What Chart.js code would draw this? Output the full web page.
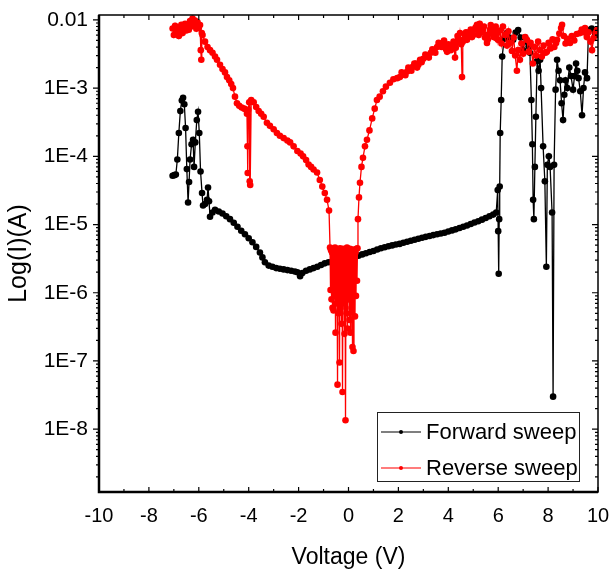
<!DOCTYPE html>
<html>
<head>
<meta charset="utf-8">
<script src="https://cdn.jsdelivr.net/npm/chart.js@4.4.1/dist/chart.umd.min.js"></script>
<style>
  html, body { margin: 0; padding: 0; background: #fff; }
  #wrap { position: relative; width: 611px; height: 585px; }
</style>
</head>
<body>
<div id="wrap"><canvas id="ivChart"></canvas></div>
<script>
/* ---------- data: [voltage (V), current (A)] ---------- */
const forwardSweep = [
  [-7.05, 5.2e-5], [-6.98, 5.3e-5], [-6.92, 5.4e-5], [-6.86, 9e-5], [-6.8, 2.2e-4],
  [-6.74, 4.6e-4], [-6.68, 6.6e-4], [-6.63, 7.2e-4], [-6.58, 5.8e-4], [-6.53, 2.6e-4],
  [-6.48, 6.5e-5], [-6.43, 2.1e-5], [-6.39, 4.2e-5], [-6.35, 9e-5], [-6.29, 1.5e-4],
  [-6.23, 1.75e-4], [-6.19, 7e-5], [-6.14, 1.6e-4], [-6.08, 3.4e-4], [-6.03, 4.5e-4],
  [-5.98, 2.2e-4], [-5.93, 6e-5], [-5.87, 2.9e-5], [-5.83, 1.9e-5], [-5.75, 2e-5],
  [-5.67, 2.3e-5], [-5.63, 3.5e-5], [-5.59, 2.2e-5], [-5.55, 1.3e-5], [-5.45, 1.5e-5],
  [-5.35, 1.65e-5], [-5.2, 1.55e-5], [-5.05, 1.45e-5], [-4.9, 1.32e-5], [-4.75, 1.2e-5],
  [-4.6, 1.06e-5], [-4.45, 9.3e-6], [-4.3, 8.1e-6], [-4.15, 7.2e-6], [-4.0, 6.3e-6],
  [-3.85, 5.5e-6], [-3.7, 4.7e-6], [-3.55, 3.9e-6], [-3.45, 3.3e-6], [-3.35, 2.8e-6],
  [-3.2, 2.5e-6], [-3.05, 2.4e-6], [-2.9, 2.3e-6], [-2.75, 2.25e-6], [-2.6, 2.2e-6],
  [-2.45, 2.15e-6], [-2.3, 2.1e-6], [-2.15, 2.05e-6], [-2.05, 2.0e-6], [-1.94, 1.75e-6],
  [-1.85, 1.95e-6], [-1.7, 2.1e-6], [-1.55, 2.2e-6], [-1.4, 2.3e-6], [-1.25, 2.4e-6],
  [-1.1, 2.55e-6], [-0.95, 2.7e-6], [-0.8, 2.8e-6], [-0.65, 2.9e-6], [-0.5, 3.0e-6],
  [-0.35, 3.1e-6], [-0.2, 3.15e-6], [-0.05, 3.2e-6], [0.1, 3.3e-6], [0.25, 3.4e-6],
  [0.4, 3.5e-6], [0.55, 3.65e-6], [0.7, 3.8e-6], [0.85, 3.95e-6], [1.0, 4.1e-6],
  [1.15, 4.3e-6], [1.3, 4.5e-6], [1.45, 4.65e-6], [1.6, 4.8e-6], [1.75, 4.95e-6],
  [1.9, 5.1e-6], [2.05, 5.2e-6], [2.2, 5.4e-6], [2.35, 5.6e-6], [2.5, 5.8e-6],
  [2.65, 6.0e-6], [2.8, 6.2e-6], [2.95, 6.4e-6], [3.1, 6.6e-6], [3.25, 6.8e-6],
  [3.4, 7.0e-6], [3.55, 7.2e-6], [3.7, 7.4e-6], [3.85, 7.6e-6], [4.0, 7.9e-6],
  [4.15, 8.2e-6], [4.3, 8.5e-6], [4.45, 8.9e-6], [4.6, 9.3e-6], [4.75, 9.7e-6],
  [4.9, 1.02e-5], [5.05, 1.07e-5], [5.2, 1.12e-5], [5.35, 1.18e-5], [5.5, 1.25e-5],
  [5.65, 1.32e-5], [5.8, 1.4e-5], [5.92, 1.5e-5], [5.98, 3.2e-5], [6.0, 8e-6],
  [6.02, 1.9e-6], [6.04, 1.2e-5], [6.06, 3.6e-5], [6.08, 2.2e-4], [6.12, 6.7e-4],
  [6.16, 2.9e-3], [6.24, 5.3e-3], [6.35, 6.4e-3], [6.45, 5.5e-3], [6.6, 5.1e-3],
  [6.7, 6.5e-3], [6.8, 7.1e-3], [6.9, 5.5e-3], [6.99, 3.6e-3], [7.08, 5.5e-3],
  [7.15, 4.8e-3], [7.22, 4.1e-3], [7.27, 3.3e-3], [7.33, 6.7e-4], [7.37, 1.5e-4],
  [7.4, 2.3e-5], [7.43, 1.2e-5], [7.47, 7e-5], [7.51, 3.8e-4], [7.56, 2.5e-3],
  [7.62, 1.8e-3], [7.68, 2.6e-3], [7.72, 1.0e-3], [7.8, 1.4e-4], [7.87, 4.3e-5],
  [7.93, 2.4e-6], [7.97, 7.5e-5], [8.03, 1.0e-4], [8.08, 7e-5], [8.16, 1.5e-5],
  [8.2, 3e-8], [8.24, 7.5e-5], [8.3, 9.5e-4], [8.36, 2.6e-3], [8.42, 1.8e-3],
  [8.48, 1.3e-3], [8.54, 6e-4], [8.6, 3.4e-4], [8.65, 8e-4], [8.7, 1.3e-3],
  [8.77, 1.0e-3], [8.85, 2.0e-3], [8.92, 1.5e-3], [9.0, 9.5e-4], [9.06, 1.5e-3],
  [9.12, 2.3e-3], [9.17, 1.8e-3], [9.22, 1.4e-3], [9.29, 9e-4], [9.36, 4.0e-4],
  [9.42, 1.0e-3], [9.48, 1.7e-3], [9.56, 1.4e-3], [9.62, 7.1e-3], [9.75, 7.5e-3],
  [9.88, 6.4e-3], [10.0, 6.0e-3]
];

const reverseSweep = [
  [-7.05, 7.5e-3], [-7.0, 6e-3], [-6.95, 8.2e-3], [-6.9, 6.6e-3], [-6.85, 7.8e-3],
  [-6.8, 5.8e-3], [-6.75, 7.2e-3], [-6.7, 8.5e-3], [-6.65, 6.4e-3], [-6.6, 7.6e-3],
  [-6.55, 8.8e-3], [-6.5, 7e-3], [-6.45, 8.4e-3], [-6.4, 7.2e-3], [-6.35, 9.6e-3],
  [-6.3, 8e-3], [-6.25, 1.05e-2], [-6.2, 8.6e-3], [-6.15, 9.8e-3], [-6.1, 7.4e-3],
  [-6.05, 9.2e-3], [-6.0, 7.6e-3], [-5.95, 8.4e-3], [-5.92, 3.6e-3], [-5.9, 2.6e-3],
  [-5.88, 6.4e-3], [-5.85, 6.0e-3], [-5.75, 4.8e-3], [-5.65, 4.0e-3], [-5.55, 3.6e-3],
  [-5.45, 3.3e-3], [-5.35, 2.9e-3], [-5.27, 2.6e-3], [-5.15, 2.2e-3], [-5.05, 1.9e-3],
  [-4.95, 1.7e-3], [-4.87, 1.45e-3], [-4.78, 1.3e-3], [-4.7, 1.15e-3], [-4.63, 1.0e-3],
  [-4.55, 7.5e-4], [-4.47, 6e-4], [-4.38, 5.5e-4], [-4.28, 5.2e-4], [-4.18, 5e-4],
  [-4.1, 4.8e-4], [-4.07, 4.2e-4], [-4.05, 1.4e-4], [-4.04, 5.7e-5], [-4.02, 4.8e-4],
  [-3.98, 6.2e-4], [-3.96, 4.3e-5], [-3.94, 3.8e-5], [-3.9, 6.7e-4], [-3.8, 6.2e-4],
  [-3.7, 5.3e-4], [-3.6, 4.6e-4], [-3.5, 4.2e-4], [-3.4, 3.8e-4], [-3.27, 3.1e-4],
  [-3.15, 2.8e-4], [-3.0, 2.5e-4], [-2.87, 2.2e-4], [-2.75, 2.0e-4], [-2.6, 1.85e-4],
  [-2.45, 1.7e-4], [-2.34, 1.6e-4], [-2.2, 1.4e-4], [-2.05, 1.2e-4], [-1.92, 1.1e-4],
  [-1.82, 1.0e-4], [-1.7, 8.8e-5], [-1.6, 7.6e-5], [-1.5, 7e-5], [-1.4, 6.4e-5],
  [-1.26, 5.8e-5], [-1.15, 4.5e-5], [-1.05, 3.6e-5], [-0.95, 2.9e-5], [-0.86, 2.3e-5],
  [-0.78, 1.6e-5], [-0.74, 4.6e-6], [-0.72, 1.1e-6], [-0.7, 4.2e-6], [-0.68, 8e-7],
  [-0.66, 3.9e-6], [-0.64, 6e-7], [-0.62, 4.4e-6], [-0.6, 5.5e-7], [-0.58, 4.0e-6],
  [-0.56, 9e-7], [-0.54, 4.6e-6], [-0.52, 2.6e-7], [-0.5, 3.8e-6], [-0.48, 7e-7],
  [-0.46, 4.3e-6], [-0.44, 4.5e-8], [-0.42, 4.1e-6], [-0.4, 5e-7], [-0.38, 3.9e-6],
  [-0.36, 9.5e-8], [-0.34, 4.5e-6], [-0.32, 6e-7], [-0.3, 4.0e-6], [-0.28, 3.5e-7],
  [-0.26, 3.6e-6], [-0.24, 3.5e-8], [-0.22, 4.4e-6], [-0.2, 7e-7], [-0.18, 3.8e-6],
  [-0.16, 2.5e-7], [-0.14, 4.2e-6], [-0.12, 1.35e-8], [-0.1, 3.9e-6], [-0.08, 5e-7],
  [-0.06, 4.6e-6], [-0.04, 3e-7], [-0.02, 4.0e-6], [0.0, 8e-7], [0.02, 3.7e-6],
  [0.04, 4e-7], [0.06, 4.4e-6], [0.08, 2.6e-7], [0.1, 4.1e-6], [0.12, 6e-7],
  [0.14, 3.8e-6], [0.16, 1.6e-7], [0.18, 4.3e-6], [0.2, 1.4e-7], [0.22, 4.0e-6],
  [0.24, 4.2e-6], [0.26, 4.5e-7], [0.28, 3.9e-6], [0.3, 9e-7], [0.32, 4.4e-6],
  [0.34, 1.5e-6], [0.36, 4.5e-6], [0.38, 1.2e-5], [0.42, 2.5e-5], [0.46, 4.1e-5],
  [0.52, 7e-5], [0.58, 9.5e-5], [0.66, 1.4e-4], [0.74, 1.75e-4], [0.84, 2.4e-4],
  [0.95, 3.6e-4], [1.05, 5e-4], [1.14, 6.7e-4], [1.25, 7.5e-4], [1.38, 9e-4],
  [1.5, 1.05e-3], [1.66, 1.2e-3], [1.8, 1.35e-3], [1.95, 1.4e-3], [2.06, 1.45e-3],
  [2.13, 1.7e-3], [2.2, 1.6e-3], [2.28, 1.55e-3], [2.35, 1.75e-3], [2.4, 2.0e-3],
  [2.45, 1.9e-3], [2.52, 1.8e-3], [2.58, 2.05e-3], [2.64, 2.3e-3], [2.7, 2.3e-3],
  [2.75, 2.0e-3], [2.8, 2.2e-3], [2.87, 2.6e-3], [2.93, 2.4e-3], [3.0, 2.7e-3],
  [3.08, 3.1e-3], [3.15, 2.9e-3], [3.22, 2.8e-3], [3.3, 3.3e-3], [3.36, 3.7e-3],
  [3.42, 3.6e-3], [3.48, 3.3e-3], [3.55, 4.0e-3], [3.61, 4.6e-3], [3.67, 4.4e-3],
  [3.73, 4.0e-3], [3.79, 4.6e-3], [3.83, 5.0e-3], [3.87, 4.1e-3], [3.91, 3.7e-3],
  [3.95, 3.4e-3], [4.0, 4.4e-3], [4.05, 3.9e-3], [4.1, 3.6e-3], [4.15, 4.3e-3],
  [4.21, 4.8e-3], [4.27, 2.8e-3], [4.3, 3.9e-3], [4.33, 4.6e-3], [4.37, 5.8e-3],
  [4.4, 5.3e-3], [4.44, 4.9e-3], [4.47, 6.4e-3], [4.52, 4.4e-3], [4.55, 1.45e-3],
  [4.58, 4.8e-3], [4.62, 5.2e-3], [4.67, 5.8e-3], [4.71, 6.6e-3], [4.75, 5.1e-3],
  [4.8, 5.6e-3], [4.85, 6.6e-3], [4.9, 7.2e-3], [4.95, 5.6e-3], [5.0, 6.0e-3],
  [5.05, 7.3e-3], [5.1, 7.8e-3], [5.15, 8.5e-3], [5.18, 7.0e-3], [5.22, 6e-3],
  [5.26, 8.8e-3], [5.3, 7.8e-3], [5.34, 6.6e-3], [5.39, 7.1e-3], [5.43, 8.0e-3],
  [5.47, 5.5e-3], [5.51, 6.0e-3], [5.55, 4.6e-3], [5.59, 5.2e-3], [5.63, 6.2e-3],
  [5.67, 7.2e-3], [5.7, 8.4e-3], [5.74, 7.6e-3], [5.78, 6.3e-3], [5.82, 5.6e-3],
  [5.86, 7.3e-3], [5.9, 8.0e-3], [5.93, 5.4e-3], [5.96, 6.4e-3], [5.99, 5.1e-3],
  [6.07, 7e-3], [6.13, 4.5e-3], [6.19, 8e-3], [6.27, 6e-3], [6.35, 4.2e-3],
  [6.41, 6.8e-3], [6.47, 4.6e-3], [6.55, 3.5e-3], [6.62, 5.5e-3], [6.68, 3e-3],
  [6.75, 1.8e-3], [6.8, 3.6e-3], [6.87, 2.6e-3], [6.93, 4.5e-3], [7.0, 3.2e-3],
  [7.08, 5.6e-3], [7.15, 5.1e-3], [7.22, 3.4e-3], [7.3, 4.6e-3], [7.39, 2.3e-3],
  [7.45, 4e-3], [7.52, 3e-3], [7.6, 4.8e-3], [7.68, 3.6e-3], [7.75, 2.9e-3],
  [7.82, 4.2e-3], [7.9, 3.3e-3], [7.95, 3.4e-3], [8.02, 4.6e-3], [8.1, 3.8e-3],
  [8.18, 5.2e-3], [8.25, 4.0e-3], [8.32, 4.6e-3], [8.36, 5.1e-3], [8.45, 6.3e-3],
  [8.52, 7.6e-3], [8.56, 8.5e-3], [8.63, 5.8e-3], [8.7, 4.5e-3], [8.78, 5.3e-3],
  [8.88, 4.6e-3], [8.95, 5.8e-3], [9.05, 5.0e-3], [9.15, 6.2e-3], [9.28, 6.4e-3],
  [9.35, 7.2e-3], [9.42, 6.6e-3], [9.48, 7.6e-3], [9.55, 5.6e-3], [9.62, 6.6e-3],
  [9.7, 4.8e-3], [9.76, 3.6e-3], [9.82, 5.4e-3], [9.9, 6.4e-3], [9.96, 7.1e-3]
];

const seriesNames = ["Forward sweep", "Reverse sweep"];
const seriesColors = ["#000000", "#ff0000"];
const voltRange = [-10, 10];
const currentRange = [1.2e-9, 0.0118];

const FONT = '"Liberation Sans", Arial, sans-serif';

/* ---------- frame + mirror ticks like the Origin plot ---------- */
const frameTicks = {
  id: "frameTicks",
  afterDatasetsDraw(chart) {
    const { ctx, chartArea: a, scales: { x, y } } = chart;
    ctx.save();
    ctx.strokeStyle = "#000";
    ctx.lineWidth = 1.5;
    ctx.strokeRect(a.left, a.top, a.right - a.left, a.bottom - a.top);
    ctx.lineWidth = 2.5;
    ctx.beginPath();
    ctx.moveTo(a.left, a.top);
    ctx.lineTo(a.left, a.bottom);
    ctx.lineTo(a.right, a.bottom);
    ctx.stroke();

    ctx.lineWidth = 1.2;
    ctx.beginPath();
    // x ticks, bottom and top, pointing in
    for (let v = voltRange[0]; v <= voltRange[1]; v++) {
      const px = x.getPixelForValue(v);
      const len = v % 2 === 0 ? 5 : 3;
      ctx.moveTo(px, a.bottom);
      ctx.lineTo(px, a.bottom - len);
      ctx.moveTo(px, a.top);
      ctx.lineTo(px, a.top + len);
    }
    // y ticks: left outward, right inward
    for (let e = -9; e <= -2; e++) {
      for (let m = 1; m <= 9; m++) {
        const v = m * Math.pow(10, e);
        if (v < currentRange[0] || v > currentRange[1]) continue;
        const py = y.getPixelForValue(v);
        const len = m === 1 ? 6 : 3;
        ctx.moveTo(a.left, py);
        ctx.lineTo(a.left - len, py);
        ctx.moveTo(a.right, py);
        ctx.lineTo(a.right - len, py);
      }
    }
    ctx.stroke();
    ctx.restore();
  }
};

/* ---------- legend box inside the plot, lower right ---------- */
const boxLegend = {
  id: "boxLegend",
  afterDraw(chart) {
    const { ctx, chartArea: a } = chart;
    const left = a.right - 221, top = a.bottom - 80, w = 202, h = 69;
    ctx.save();
    ctx.fillStyle = "#fff";
    ctx.fillRect(left, top, w, h);
    ctx.strokeStyle = "#222";
    ctx.lineWidth = 1;
    ctx.strokeRect(left + 0.5, top + 0.5, w, h);
    ctx.font = "22px " + FONT;
    ctx.textBaseline = "middle";
    chart.data.datasets.forEach((ds, i) => {
      const cy = top + 20 + i * 36;
      ctx.strokeStyle = i === 0 ? "#555" : "#ff5050";
      ctx.lineWidth = 1.5;
      ctx.beginPath();
      ctx.moveTo(left + 4, cy);
      ctx.lineTo(left + 44, cy);
      ctx.stroke();
      ctx.fillStyle = ds.pointBackgroundColor;
      ctx.beginPath();
      ctx.arc(left + 24, cy, 2, 0, Math.PI * 2);
      ctx.fill();
      ctx.fillStyle = "#000";
      ctx.fillText(ds.label, left + 49, cy + 1);
    });
    ctx.restore();
  }
};

const toPoints = (rows) => rows.map(([v, i]) => ({ x: v, y: i }));

const makeSet = (rows, idx, order) => ({
  label: seriesNames[idx],
  data: toPoints(rows),
  borderColor: seriesColors[idx],
  backgroundColor: seriesColors[idx],
  pointBackgroundColor: seriesColors[idx],
  pointBorderWidth: 0,
  pointRadius: 3.3,
  borderWidth: 1.3,
  tension: 0,
  order: order,
});

new Chart(document.getElementById("ivChart"), {
  type: "line",
  data: {
    datasets: [makeSet(forwardSweep, 0, 1), makeSet(reverseSweep, 1, 0)],
  },
  plugins: [frameTicks, boxLegend],
  options: {
    responsive: true,
    maintainAspectRatio: false,
    animation: false,
    devicePixelRatio: 1,
    layout: { padding: { top: 15, right: 13, bottom: 0, left: 0 } },
    plugins: { legend: { display: false }, tooltip: { enabled: false } },
    scales: {
      x: {
        type: "linear",
        min: voltRange[0],
        max: voltRange[1],
        // tick marks are drawn by frameTicks; tickLength only spaces the labels
        grid: { display: false, drawTicks: true, tickLength: 12 },
        border: { display: false },
        ticks: {
          stepSize: 2,
          color: "#000",
          padding: 0,
          font: { family: FONT, size: 20 },
        },
        title: {
          display: true,
          text: "Voltage (V)",
          color: "#000",
          font: { family: FONT, size: 23 },
          padding: { top: 0, bottom: 14 },
        },
        afterFit: (s) => { s.height = 93; },
      },
      y: {
        type: "logarithmic",
        min: currentRange[0],
        max: currentRange[1],
        grid: { display: false, drawTicks: true, tickLength: 11 },
        border: { display: false },
        ticks: {
          autoSkip: false,
          color: "#000",
          padding: 0,
          font: { family: FONT, size: 21 },
          callback: (v) => {
            const e = Math.log10(v);
            const n = Math.round(e);
            if (Math.abs(e - n) > 1e-6 || n < -8 || n > -2) return null;
            return n === -2 ? "0.01" : "1E" + n;
          },
        },
        title: {
          display: true,
          text: "Log(I)(A)",
          color: "#000",
          font: { family: FONT, size: 25 },
          padding: { top: 4, bottom: 0 },
        },
        afterFit: (s) => { s.width = 99; },
      },
    },
  },
});
</script>
</body>
</html>
